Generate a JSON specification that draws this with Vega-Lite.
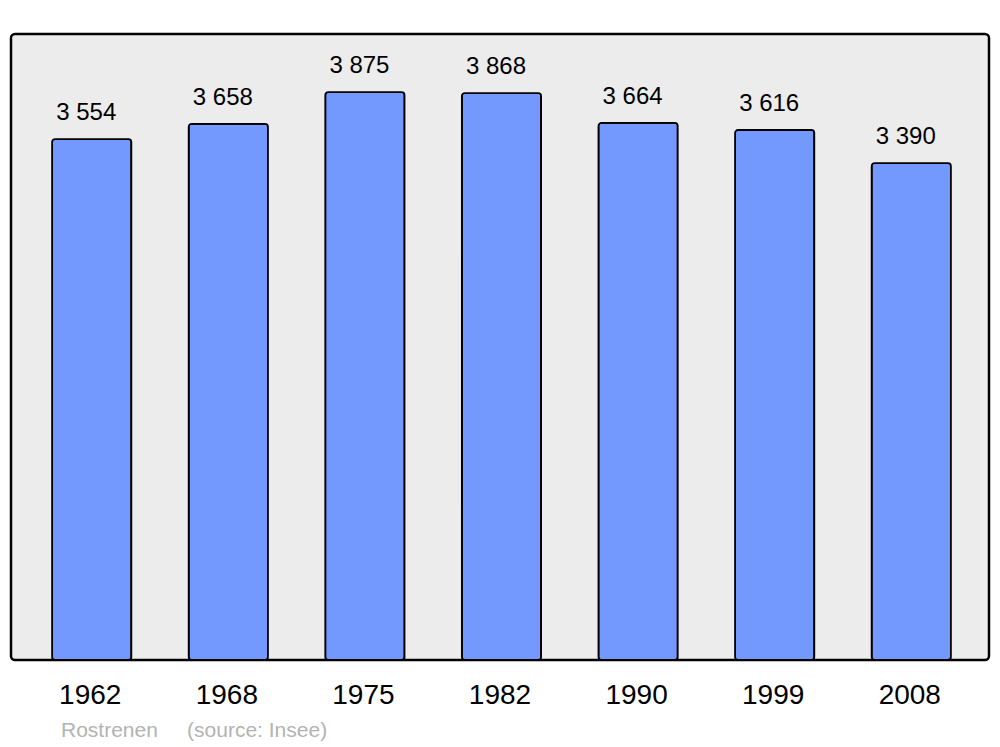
{
  "$schema": "https://vega.github.io/schema/vega-lite/v6.json",
  "autosize": "none",
  "width": 978,
  "height": 626,
  "padding": {"left": 11, "top": 34, "right": 11, "bottom": 87},
  "background": "white",
  "data": {"values": [
    {"year": "1962", "population": 3554, "label": "3 554"},
    {"year": "1968", "population": 3658, "label": "3 658"},
    {"year": "1975", "population": 3875, "label": "3 875"},
    {"year": "1982", "population": 3868, "label": "3 868"},
    {"year": "1990", "population": 3664, "label": "3 664"},
    {"year": "1999", "population": 3616, "label": "3 616"},
    {"year": "2008", "population": 3390, "label": "3 390"}
  ]},
  "title": {
    "text": "Rostrenen\u00a0\u00a0\u00a0\u00a0\u00a0(source: Insee)",
    "orient": "bottom",
    "anchor": "start",
    "dx": 50,
    "offset": 11,
    "font": "Liberation Sans",
    "fontSize": 21,
    "fontWeight": "normal",
    "color": "#b3b3b3"
  },
  "encoding": {
    "x": {
      "field": "year",
      "type": "ordinal",
      "scale": {"paddingInner": 0.42, "paddingOuter": 0.29},
      "axis": {
        "title": null,
        "domain": false,
        "ticks": false,
        "labelAngle": 0,
        "labelFont": "Liberation Sans",
        "labelFontSize": 28,
        "labelColor": "black",
        "labelPadding": 21
      }
    },
    "y": {
      "field": "population",
      "type": "quantitative",
      "scale": {"domain": [0, 4271], "nice": false},
      "axis": null
    }
  },
  "layer": [
    {
      "mark": {"type": "bar", "color": "#7399ff", "stroke": "black", "strokeWidth": 1.8, "cornerRadius": 3, "xOffset": 1.5}
    },
    {
      "mark": {"type": "text", "font": "Liberation Sans", "fontSize": 24, "color": "black", "baseline": "alphabetic", "dy": -19, "dx": -4},
      "encoding": {"text": {"field": "label"}}
    }
  ],
  "config": {
    "view": {"fill": "#ececec", "stroke": "black", "strokeWidth": 2.5, "cornerRadius": 4}
  }
}
